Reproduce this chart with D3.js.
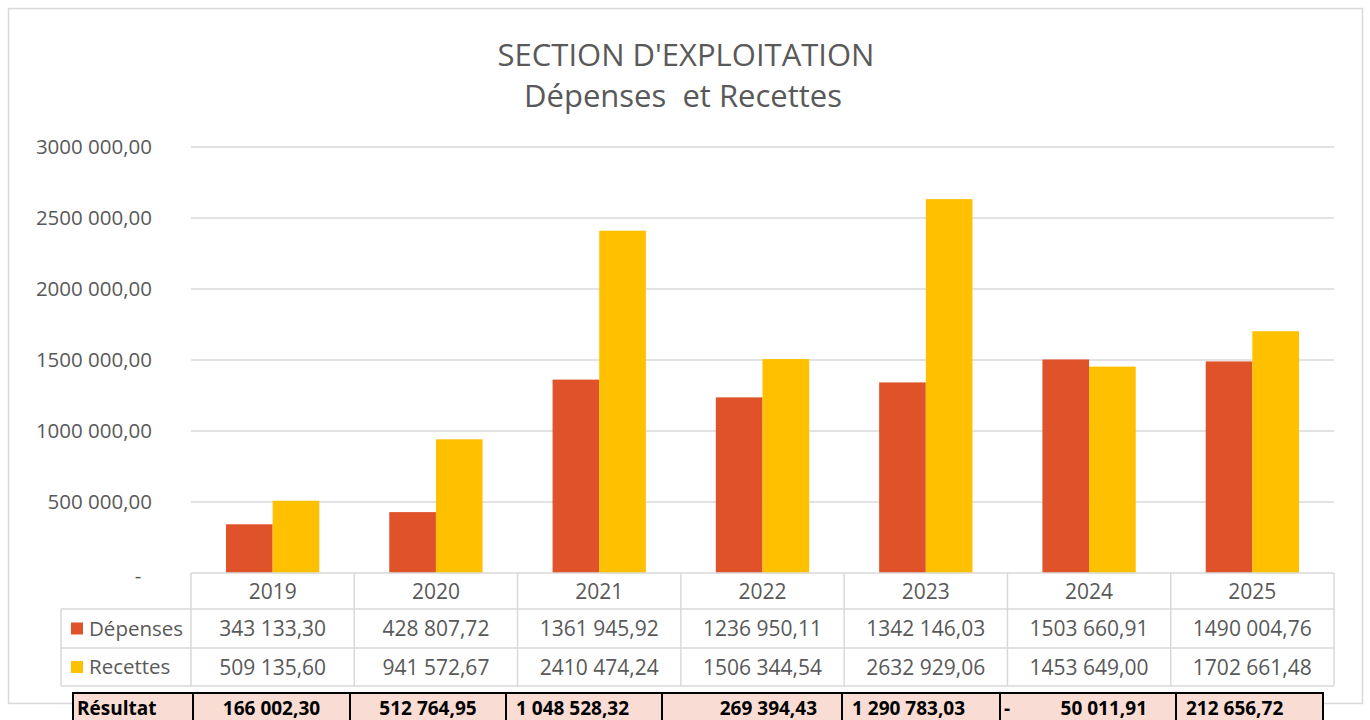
<!DOCTYPE html>
<html>
<head>
<meta charset="utf-8">
<script src="https://cdn.jsdelivr.net/npm/d3@7"></script>
<style>
  body { margin: 0; background: #fff; }
  svg { display: block; }
  text { font-family: "Open Sans", "Noto Sans", sans-serif; }
</style>
</head>
<body>
<div id="chart"></div>
<script>
// data
const years = ["2019", "2020", "2021", "2022", "2023", "2024", "2025"];
const seriesNames = ["Dépenses", "Recettes"];
const depenses = [343133.30, 428807.72, 1361945.92, 1236950.11, 1342146.03, 1503660.91, 1490004.76];
const recettes = [509135.60, 941572.67, 2410474.24, 1506344.54, 2632929.06, 1453649.00, 1702661.48];
const resultat = [166002.30, 512764.95, 1048528.32, 269394.43, 1290783.03, -50011.91, 212656.72];
const yTicks = [0, 500000, 1000000, 1500000, 2000000, 2500000, 3000000];
const colors = ["#E0532A", "#FFC000"];

let W = 1370, H = 720;
let plotLeft = 191, plotRight = 1334, plotTop = 147, base = 573;
let rowH = [36, 39, 38];
let gray = "#595959", grid = "#d9d9d9";

// résultat row (pasted table under the chart)
let resEdges = [73, 193, 350, 506, 662, 842, 1000, 1176, 1323];
let resAlign = ["middle", "middle", "start", "end", "start", "acct", "start"];

let svg = d3.select("#chart").append("svg").attr("width", W).attr("height", H);

svg.append("rect").attr("x", 8.5).attr("y", 8.5).attr("width", 1354).attr("height", 695)
  .attr("fill", "#fff").attr("stroke", grid).attr("stroke-width", 1.5);

// titles
svg.append("text").attr("x", 686).attr("y", 66).attr("text-anchor", "middle")
  .attr("font-size", 31).attr("fill", gray).text("SECTION D'EXPLOITATION");
svg.append("text").attr("x", 683).attr("y", 107).attr("text-anchor", "middle")
  .attr("font-size", 31).attr("fill", gray).attr("xml:space", "preserve").text("Dépenses  et Recettes");

let x = d3.scaleBand().domain(years).range([plotLeft, plotRight]).padding(0);
let x1 = d3.scaleBand().domain(seriesNames).range([0, x.bandwidth()]).paddingInner(0).paddingOuter(0.75);
let y = d3.scaleLinear().domain([0, 3000000]).range([base, plotTop]);

// number formats
let fr = d3.formatLocale({ decimal: ",", thousands: " ", grouping: [3], currency: ["", ""] });
let fmtFull = fr.format(",.2f");
function fmtChart(v) {
  // excel shows only the last thousands separator here
  let s = d3.format(".2f")(v).replace(".", ",");
  let [i, d] = s.split(",");
  if (i.length > 3) i = i.slice(0, i.length - 3) + " " + i.slice(-3);
  return i + "," + d;
}

// gridlines + y labels
svg.append("g").selectAll("line").data(yTicks.filter(d => d > 0)).join("line")
  .attr("x1", plotLeft).attr("x2", plotRight)
  .attr("y1", d => y(d)).attr("y2", d => y(d))
  .attr("stroke", grid).attr("stroke-width", 1.5);

svg.append("g").selectAll("text").data(yTicks).join("text")
  .attr("x", d => d === 0 ? 138 : 152)
  .attr("y", d => y(d) + (d === 0 ? 3 : 0))
  .attr("dy", "0.35em")
  .attr("text-anchor", d => d === 0 ? "middle" : "end")
  .attr("font-size", 20.5).attr("fill", gray)
  .text(d => d === 0 ? "-" : fmtChart(d));

// bars
let seriesData = [depenses, recettes];
let groups = svg.append("g").selectAll("g").data(seriesNames).join("g")
  .attr("fill", (d, i) => colors[i]);
groups.selectAll("rect")
  .data((s, si) => years.map((yr, i) => ({ yr, s, v: seriesData[si][i] })))
  .join("rect")
  .attr("x", d => x(d.yr) + x1(d.s))
  .attr("width", x1.bandwidth())
  .attr("y", d => y(d.v))
  .attr("height", d => y(0) - y(d.v));

// data table
let r0 = base, r1 = base + rowH[0], r2 = r1 + rowH[1], r3 = r2 + rowH[2];
let tbl = svg.append("g").attr("stroke", grid).attr("stroke-width", 1.5);
[r0, r1, r2, r3].forEach((ry, i) => {
  tbl.append("line").attr("x1", i === 0 ? plotLeft : 61).attr("x2", plotRight).attr("y1", ry).attr("y2", ry);
});
tbl.append("line").attr("x1", 61).attr("x2", 61).attr("y1", r1).attr("y2", r3);
tbl.selectAll("line.v").data(years.concat(["end"])).join("line").attr("class", "v")
  .attr("x1", d => d === "end" ? plotRight : x(d)).attr("x2", d => d === "end" ? plotRight : x(d))
  .attr("y1", r0).attr("y2", r3);

let cells = svg.append("g").attr("font-size", 21).attr("fill", gray).attr("text-anchor", "middle");
cells.selectAll("text.yr").data(years).join("text").attr("class", "yr")
  .attr("x", d => x(d) + x.bandwidth() / 2).attr("y", (r0 + r1) / 2).attr("dy", "0.36em").text(d => d);
seriesData.forEach((arr, si) => {
  let cy = si === 0 ? (r1 + r2) / 2 : (r2 + r3) / 2;
  cells.append("g").selectAll("text").data(arr).join("text")
    .attr("x", (d, i) => x(years[i]) + x.bandwidth() / 2).attr("y", cy).attr("dy", "0.36em")
    .text(d => fmtChart(d));
  svg.append("rect").attr("x", 71).attr("y", cy - 6).attr("width", 12).attr("height", 12).attr("fill", colors[si]);
  svg.append("text").attr("x", 89).attr("y", cy).attr("dy", "0.36em")
    .attr("font-size", 20.5).attr("fill", gray).text(seriesNames[si]);
});

// résultat row
let ry0 = 693, ry1 = 725;
let res = svg.append("g");
res.append("rect").attr("x", resEdges[0]).attr("y", ry0)
  .attr("width", resEdges[resEdges.length - 1] - resEdges[0]).attr("height", ry1 - ry0)
  .attr("fill", "#F9DCD3").attr("stroke", "#000").attr("stroke-width", 2);
res.selectAll("line").data(resEdges.slice(1, -1)).join("line")
  .attr("x1", d => d).attr("x2", d => d).attr("y1", ry0).attr("y2", ry1)
  .attr("stroke", "#000").attr("stroke-width", 2);
let rt = ry0 + 15;
res.append("text").attr("x", resEdges[0] + 4).attr("y", rt).attr("dy", "0.36em")
  .attr("font-size", 19).attr("font-weight", "bold").attr("fill", "#000").text("Résultat");
resultat.forEach((v, i) => {
  let a = resEdges[i + 1], b = resEdges[i + 2], al = resAlign[i];
  let t = res.append("text").attr("y", rt).attr("dy", "0.36em")
    .attr("font-size", 19).attr("font-weight", "bold").attr("fill", "#000");
  if (al === "middle") t.attr("x", (a + b) / 2).attr("text-anchor", "middle").text(fmtFull(Math.abs(v)));
  else if (al === "start") t.attr("x", a + 10).text(fmtFull(Math.abs(v)));
  else if (al === "end") t.attr("x", b - 25).attr("text-anchor", "end").text(fmtFull(Math.abs(v)));
  else {
    t.attr("x", b - 29).attr("text-anchor", "end").text(fmtFull(Math.abs(v)));
    res.append("text").attr("x", a + 4).attr("y", rt).attr("dy", "0.36em")
      .attr("font-size", 19).attr("font-weight", "bold").attr("fill", "#000").text(v < 0 ? "-" : "");
  }
});
</script>
</body>
</html>
